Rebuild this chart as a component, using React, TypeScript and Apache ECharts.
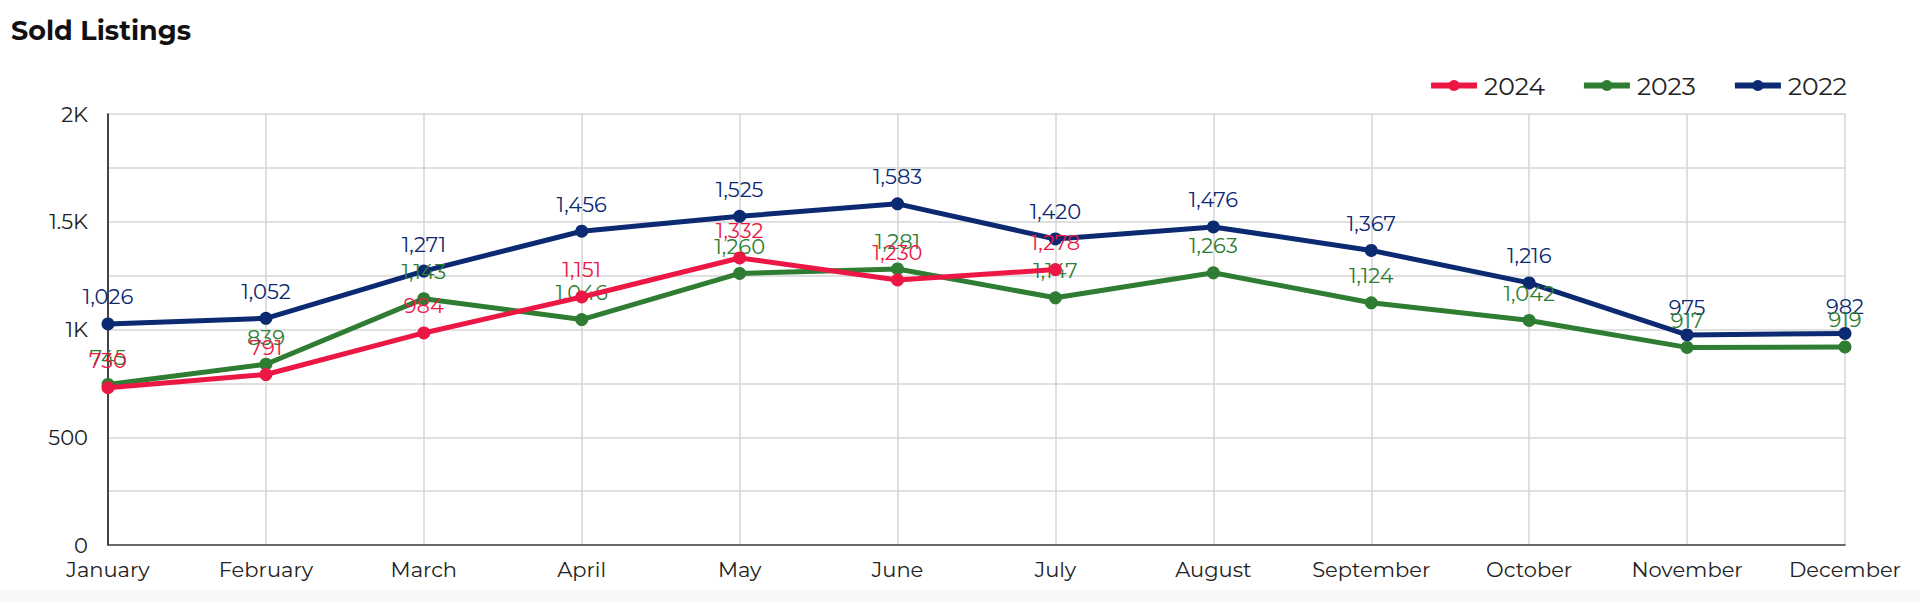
import React, { useEffect, useRef } from "react";
import * as echarts from "echarts";

const months = ["January","February","March","April","May","June","July","August","September","October","November","December"];
const sold2024 = [730, 791, 984, 1151, 1332, 1230, 1278];
const sold2023 = [745, 839, 1143, 1046, 1260, 1281, 1147, 1263, 1124, 1042, 917, 919];
const sold2022 = [1026, 1052, 1271, 1456, 1525, 1583, 1420, 1476, 1367, 1216, 975, 982];
const seriesNames = ["2024", "2023", "2022"];
const colors = ["#EC1745", "#2E7D32", "#0B2A72"];

const FONT = "Montserrat, Inter, 'Noto Sans', sans-serif";

function fmtNum(v: number) {
  return v.toLocaleString("en-US");
}
function fmtAxis(v: number) {
  if (v % 500 !== 0) return "";
  if (v >= 1000) return (v / 1000).toString() + "K";
  return String(v);
}

export default function App() {
  const ref = useRef<HTMLDivElement>(null);
  useEffect(() => {
    document.body.style.margin = "0";
    document.body.style.background = "#f8f8f8";
    const chart = echarts.init(ref.current!, null, { renderer: "svg" });
    const data = [sold2024, sold2023, sold2022];
    chart.setOption({
      animation: false,
      backgroundColor: "#ffffff",
      title: {
        text: "Sold Listings",
        left: 6,
        top: 12,
        textStyle: { fontFamily: FONT, fontSize: 27, fontWeight: "bold", color: "#111" },
      },
      legend: {
        right: 68,
        top: 68,
        itemWidth: 46,
        itemHeight: 14,
        itemGap: 36,
        lineStyle: { width: 6 },
        textStyle: { fontFamily: FONT, fontSize: 25, color: "#222", padding: [0, 0, 0, 2] },
        data: seriesNames,
      },
      grid: { left: 108, right: 75, top: 114, bottom: 45, containLabel: false },
      xAxis: {
        type: "category",
        data: months,
        boundaryGap: false,
        axisLine: { lineStyle: { color: "#444", width: 1.5 } },
        axisTick: { show: false },
        splitLine: { show: true, lineStyle: { color: "#d6d6d6", width: 1.5 } },
        axisLabel: { fontFamily: FONT, fontSize: 21, color: "#222", margin: 14 },
      },
      yAxis: {
        type: "value",
        min: 0,
        max: 2000,
        interval: 250,
        axisLine: { show: true, lineStyle: { color: "#111", width: 1.5 } },
        axisTick: { show: false },
        splitLine: { lineStyle: { color: "#d6d6d6", width: 1.5 } },
        axisLabel: { fontFamily: FONT, fontSize: 21, color: "#222", margin: 20, formatter: fmtAxis },
      },
      series: data.map((d, i) => ({
        name: seriesNames[i],
        type: "line",
        data: d,
        z: 3 - i,
        color: colors[i],
        symbol: "circle",
        symbolSize: 13,
        lineStyle: { width: 5, color: colors[i] },
        itemStyle: { color: colors[i] },
        label: {
          show: true,
          position: "top",
          distance: 10,
          fontFamily: FONT,
          fontSize: 21,
          color: colors[i],
          formatter: (p: any) => fmtNum(p.value),
        },
      })),
    });
    return () => chart.dispose();
  }, []);
  return <div ref={ref} style={{ width: 1920, height: 590 }} />;
}
